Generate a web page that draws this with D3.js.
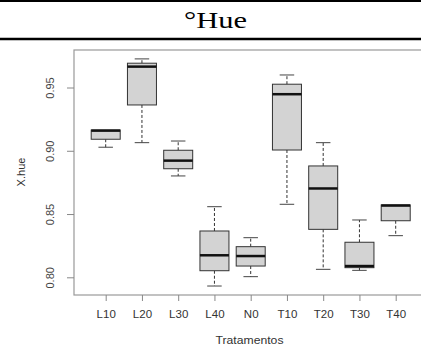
<!DOCTYPE html>
<html>
<head>
<meta charset="utf-8">
<script src="https://cdn.jsdelivr.net/npm/d3@7"></script>
<style>
  body { margin: 0; background: #fff; }
  svg { display: block; }
</style>
</head>
<body>
<div id="chart"></div>
<script>
// Treatments and box statistics
const tratamentos = ["L10", "L20", "L30", "L40", "N0", "T10", "T20", "T30", "T40"];
const lowerWhisker = [0.9028, 0.9064, 0.8801, 0.7931, 0.8005, 0.8577, 0.8063, 0.8055, 0.8329];
const q1           = [0.9091, 0.9362, 0.8858, 0.8052, 0.8089, 0.9006, 0.8379, 0.8076, 0.8447];
const median       = [0.9159, 0.9665, 0.8922, 0.8174, 0.8168, 0.9447, 0.8702, 0.8089, 0.8567];
const q3           = [0.9164, 0.9692, 0.9004, 0.8366, 0.8242, 0.9526, 0.8880, 0.8277, 0.8572];
const upperWhisker = [0.9164, 0.9726, 0.9077, 0.8558, 0.8313, 0.9599, 0.9064, 0.8453, 0.8572];
const yTicks = [0.80, 0.85, 0.90, 0.95];

const W = 421, H = 351;
const plot = { left: 74, right: 427, top: 50, bottom: 295 };
const sans = "Liberation Sans, Arial, sans-serif";

const svg = d3.select("#chart").append("svg")
    .attr("width", W)
    .attr("height", H);

// Title band
svg.append("line").attr("x1", 0).attr("x2", W).attr("y1", 1).attr("y2", 1)
    .attr("stroke", "#000").attr("stroke-width", 2);
svg.append("text")
    .attr("x", 184).attr("y", 28)
    .attr("font-family", "Liberation Serif, Times New Roman, serif")
    .attr("font-size", 23)
    .attr("textLength", 63)
    .attr("lengthAdjust", "spacingAndGlyphs")
    .text("°Hue");
svg.append("line").attr("x1", 0).attr("x2", W).attr("y1", 39).attr("y2", 39)
    .attr("stroke", "#000").attr("stroke-width", 2.5);

// Scales
const step = 36.25;
const x = d3.scalePoint()
    .domain(tratamentos)
    .range([105.7, 105.7 + step * (tratamentos.length - 1)]);
const y = d3.scaleLinear()
    .domain([0.80, 0.95])
    .range([277.3, 87.5]);

const boxW = step * 0.8;
const capW = boxW * 0.5;

const data = tratamentos.map((t, i) => ({
    t, lo: lowerWhisker[i], q1: q1[i], med: median[i], q3: q3[i], hi: upperWhisker[i]
}));

const g = svg.append("g");

// Whiskers
g.selectAll(".whisk-up").data(data).enter().append("line")
    .attr("x1", d => x(d.t)).attr("x2", d => x(d.t))
    .attr("y1", d => y(d.q3)).attr("y2", d => y(d.hi))
    .attr("stroke", "#333").attr("stroke-dasharray", "3,2");
g.selectAll(".whisk-lo").data(data).enter().append("line")
    .attr("x1", d => x(d.t)).attr("x2", d => x(d.t))
    .attr("y1", d => y(d.q1)).attr("y2", d => y(d.lo))
    .attr("stroke", "#333").attr("stroke-dasharray", "3,2");

// Caps
g.selectAll(".cap-hi").data(data.filter(d => d.hi > d.q3)).enter().append("line")
    .attr("x1", d => x(d.t) - capW / 2).attr("x2", d => x(d.t) + capW / 2)
    .attr("y1", d => y(d.hi)).attr("y2", d => y(d.hi))
    .attr("stroke", "#444");
g.selectAll(".cap-lo").data(data).enter().append("line")
    .attr("x1", d => x(d.t) - capW / 2).attr("x2", d => x(d.t) + capW / 2)
    .attr("y1", d => y(d.lo)).attr("y2", d => y(d.lo))
    .attr("stroke", "#444");

// Boxes
g.selectAll(".box").data(data).enter().append("rect")
    .attr("x", d => x(d.t) - boxW / 2)
    .attr("width", boxW)
    .attr("y", d => y(d.q3))
    .attr("height", d => y(d.q1) - y(d.q3))
    .attr("fill", "#d3d3d3")
    .attr("stroke", "#333")
    .attr("stroke-width", 1);

// Medians
g.selectAll(".median").data(data).enter().append("line")
    .attr("x1", d => x(d.t) - boxW / 2).attr("x2", d => x(d.t) + boxW / 2)
    .attr("y1", d => y(d.med)).attr("y2", d => y(d.med))
    .attr("stroke", "#111").attr("stroke-width", 2.5);

// Frame
svg.append("rect")
    .attr("x", plot.left).attr("y", plot.top)
    .attr("width", plot.right - plot.left).attr("height", plot.bottom - plot.top)
    .attr("fill", "none").attr("stroke", "#999").attr("stroke-width", 1.2);

// Y axis
const yAxis = svg.append("g")
    .attr("transform", `translate(${plot.left},0)`)
    .call(d3.axisLeft(y).tickValues(yTicks).tickFormat(d3.format(".2f")).tickSize(7));
yAxis.select(".domain").remove();
yAxis.selectAll("line").attr("stroke", "#888");
yAxis.selectAll("text")
    .attr("x", 0).attr("dy", "0.35em")
    .attr("transform", "translate(-24,0) rotate(-90)")
    .attr("text-anchor", "middle")
    .attr("fill", "#444")
    .attr("font-family", sans)
    .attr("font-size", 11);

// X axis
const xAxis = svg.append("g")
    .attr("transform", `translate(0,${plot.bottom})`)
    .call(d3.axisBottom(x).tickSize(6).tickPadding(8.5));
xAxis.select(".domain").remove();
xAxis.selectAll("line").attr("stroke", "#888");
xAxis.selectAll("text")
    .attr("fill", "#333")
    .attr("font-family", sans)
    .attr("font-size", 11.5);

// Axis titles
svg.append("text")
    .attr("x", 249.5).attr("y", 344)
    .attr("text-anchor", "middle")
    .attr("fill", "#333")
    .attr("font-family", sans)
    .attr("font-size", 11)
    .attr("textLength", 68)
    .attr("lengthAdjust", "spacingAndGlyphs")
    .text("Tratamentos");
svg.append("text")
    .attr("transform", "translate(24.5,172) rotate(-90)")
    .attr("text-anchor", "middle")
    .attr("fill", "#333")
    .attr("font-family", sans)
    .attr("font-size", 11)
    .text("X.hue");
</script>
</body>
</html>
